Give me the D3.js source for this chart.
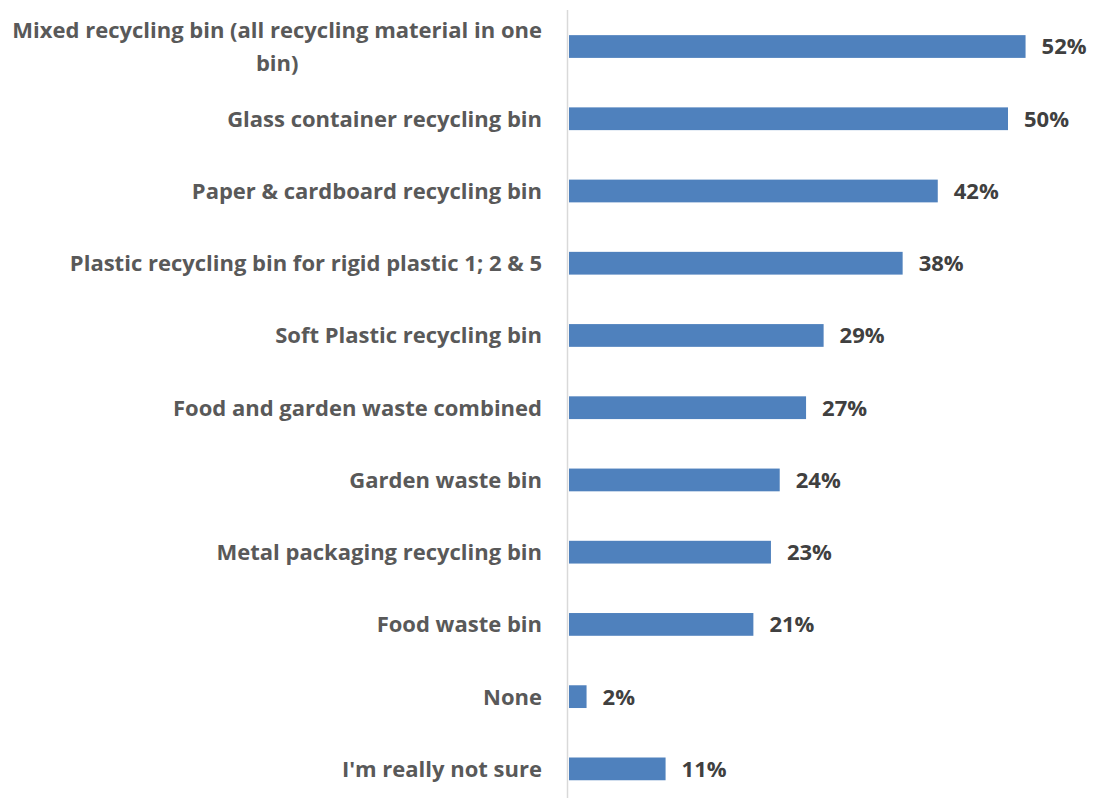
<!DOCTYPE html>
<html>
<head>
<meta charset="utf-8">
<script src="https://cdn.jsdelivr.net/npm/d3@7"></script>
<style>
  html, body { margin: 0; padding: 0; background: #ffffff; }
  svg { display: block; }
  text { font-family: "Open Sans", "Lato", sans-serif; font-weight: 700; }
</style>
</head>
<body>
<svg id="chart" width="1096" height="798"></svg>
<script>
// Bin types, listed top to bottom
const categories = [
  "Mixed recycling bin (all recycling material in one bin)",
  "Glass container recycling bin",
  "Paper & cardboard recycling bin",
  "Plastic recycling bin for rigid plastic 1; 2 & 5",
  "Soft Plastic recycling bin",
  "Food and garden waste combined",
  "Garden waste bin",
  "Metal packaging recycling bin",
  "Food waste bin",
  "None",
  "I'm really not sure"
];

// Share of respondents (%)
const values = [52, 50, 42, 38, 29, 27, 24, 23, 21, 2, 11];

// Category labels that wrap onto two lines
const wrappedLabels = {
  "Mixed recycling bin (all recycling material in one bin)": ["Mixed recycling bin (all recycling material in one", "bin)"]
};

const data = categories.map((c, i) => ({ category: c, value: values[i] }));

const svg = d3.select("#chart");

const x = d3.scaleLinear().domain([0, 60]).range([569, 569 + 60 * 8.78]);
const y = d3.scaleBand()
  .domain(categories)
  .range([10.4, 805])
  .paddingInner(0.685)
  .paddingOuter(0.3425);

// Vertical category axis line
svg.append("line")
  .attr("x1", 567.5).attr("x2", 567.5)
  .attr("y1", 10).attr("y2", 798)
  .attr("stroke", "#d9d9d9")
  .attr("stroke-width", 1.5);

// Bars
svg.append("g")
  .selectAll("rect")
  .data(data)
  .join("rect")
  .attr("x", x(0))
  .attr("y", d => y(d.category))
  .attr("width", d => x(d.value) - x(0))
  .attr("height", y.bandwidth())
  .attr("fill", "#4f81bd");

// Value labels
svg.append("g")
  .selectAll("text")
  .data(data)
  .join("text")
  .attr("x", d => x(d.value) + 16)
  .attr("y", d => y(d.category) + y.bandwidth() / 2)
  .attr("dy", "0.36em")
  .attr("fill", "#404040")
  .attr("font-size", 22)
  .text(d => d.value + "%");

// Category labels
const labelX = 542;
const labels = svg.append("g")
  .attr("fill", "#595959")
  .attr("font-size", 22);

data.forEach(d => {
  const cy = y(d.category) + y.bandwidth() / 2;
  const lines = wrappedLabels[d.category];
  if (!lines) {
    labels.append("text")
      .attr("x", labelX)
      .attr("y", cy)
      .attr("dy", "0.36em")
      .attr("text-anchor", "end")
      .text(d.category);
  } else {
    const lineGap = 33;
    const first = labels.append("text")
      .attr("x", labelX)
      .attr("y", cy - lineGap / 2)
      .attr("dy", "0.36em")
      .attr("text-anchor", "end")
      .text(lines[0]);
    const w = first.node().getComputedTextLength();
    labels.append("text")
      .attr("x", labelX - w / 2)
      .attr("y", cy + lineGap / 2)
      .attr("dy", "0.36em")
      .attr("text-anchor", "middle")
      .text(lines[1]);
  }
});
</script>
</body>
</html>
